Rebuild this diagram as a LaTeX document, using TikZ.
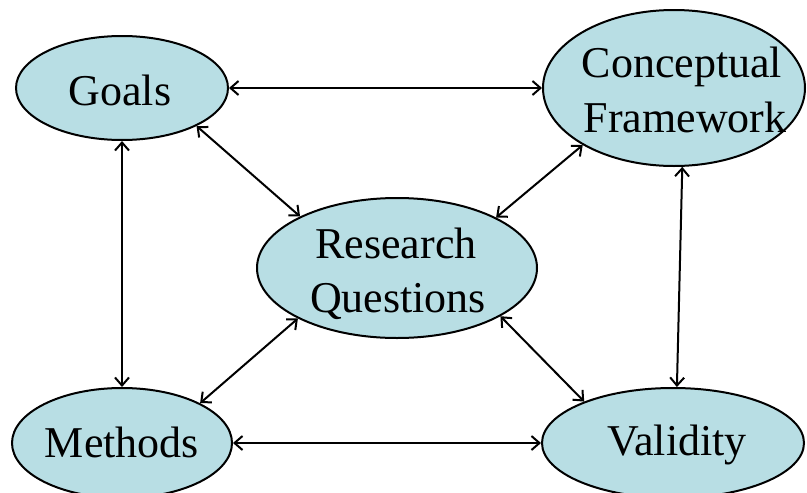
\documentclass[tikz,border=0pt]{standalone}
\usepackage{fontspec}
\setmainfont{Liberation Serif}
\usetikzlibrary{arrows.meta,shapes.geometric}
\definecolor{bubble}{RGB}{184,222,228}
\begin{document}
\begin{tikzpicture}[x=1pt,y=-1pt,
  bubble/.style={ellipse,draw=black,line width=2pt,fill=bubble,inner sep=0pt},
  caption/.style={align=center,inner sep=0pt,font=\fontsize{44}{54}\selectfont},
  link/.style={line width=2pt,>={Straight Barb[length=8pt,width=14pt,line width=2pt]},<->}]
\useasboundingbox (0,0) rectangle (807,493);
\begin{scope}
\clip (0,0) rectangle (807,493);
% the five components of the design
\node[bubble,minimum width=212pt,minimum height=104pt] (goals) at (122,88) {};
\node[bubble,minimum width=262pt,minimum height=156pt] (cf) at (674,88) {};
\node[bubble,minimum width=280pt,minimum height=140pt] (rq) at (397,268) {};
\node[bubble,minimum width=220pt,minimum height=110pt] (methods) at (122,443) {};
\node[bubble,minimum width=262pt,minimum height=110pt] (validity) at (673,443) {};
\end{scope}
% their names
\node[caption,anchor=base] (goalsT) at (120,105) {Goals};
\node[caption,anchor=base] (cfT1) at (682,77) {Conceptual};
\node[caption,anchor=base] (cfT2) at (685,132) {Framework};
\node[caption,anchor=base] (rqT1) at (396,258) {Research};
\node[caption,anchor=base] (rqT2) at (398,312) {Questions};
\node[caption,anchor=base] (methodsT) at (122,457) {Methods};
\node[caption,anchor=base] (validityT) at (677,455) {Validity};
% two-way links between the components
\draw[link] (goals.east) -- (cf.west);
\draw[link] (goals.south) -- (methods.north);
\draw[link] (cf.-84) -- (validity.86);
\draw[link] (methods.east) -- (validity.west);
\draw[link] (goals.-27.5) -- (rq.152.7);
\draw[link] (cf.-148.9) -- (rq.27);
\draw[link] (methods.27.1) -- (rq.-153.9);
\draw[link] (validity.155.7) -- (rq.-25.9);
\end{tikzpicture}
\end{document}
